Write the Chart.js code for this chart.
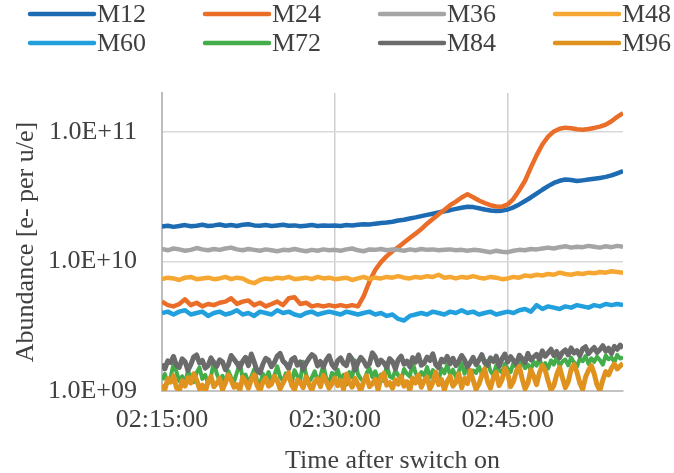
<!DOCTYPE html>
<html>
<head>
<meta charset="utf-8">
<script src="https://cdn.jsdelivr.net/npm/chart.js@4/dist/chart.umd.min.js"></script>
<style>
  html, body { margin: 0; padding: 0; background: #ffffff; }
  canvas { display: block; }
</style>
</head>
<body>
<canvas id="chart" width="674" height="473"></canvas>
<script>
// Sample times in seconds after 02:15:00 (30 s and 15 s logging)
const sampleSec = [
  0, 30, 60, 90, 120, 150, 180, 210, 240, 270,
  300, 330, 360, 390, 420, 450, 480, 510, 540, 570,
  600, 630, 660, 690, 720, 750, 780, 810, 840, 870,
  900, 930, 960, 990, 1020, 1050, 1080, 1110, 1140, 1170,
  1200, 1230, 1260, 1290, 1320, 1350, 1380, 1410, 1440, 1470,
  1500, 1530, 1560, 1590, 1620, 1650, 1680, 1710, 1740, 1770,
  1800, 1830, 1860, 1890, 1920, 1950, 1980, 2010, 2040, 2070,
  2100, 2130, 2160, 2190, 2220, 2250, 2280, 2310, 2340, 2370,
  2400
];
const fineSampleSec = [
  0, 15, 30, 45, 60, 75, 90, 105, 120, 135,
  150, 165, 180, 195, 210, 225, 240, 255, 270, 285,
  300, 315, 330, 345, 360, 375, 390, 405, 420, 435,
  450, 465, 480, 495, 510, 525, 540, 555, 570, 585,
  600, 615, 630, 645, 660, 675, 690, 705, 720, 735,
  750, 765, 780, 795, 810, 825, 840, 855, 870, 885,
  900, 915, 930, 945, 960, 975, 990, 1005, 1020, 1035,
  1050, 1065, 1080, 1095, 1110, 1125, 1140, 1155, 1170, 1185,
  1200, 1215, 1230, 1245, 1260, 1275, 1290, 1305, 1320, 1335,
  1350, 1365, 1380, 1395, 1410, 1425, 1440, 1455, 1470, 1485,
  1500, 1515, 1530, 1545, 1560, 1575, 1590, 1605, 1620, 1635,
  1650, 1665, 1680, 1695, 1710, 1725, 1740, 1755, 1770, 1785,
  1800, 1815, 1830, 1845, 1860, 1875, 1890, 1905, 1920, 1935,
  1950, 1965, 1980, 1995, 2010, 2025, 2040, 2055, 2070, 2085,
  2100, 2115, 2130, 2145, 2160, 2175, 2190, 2205, 2220, 2235,
  2250, 2265, 2280, 2295, 2310, 2325, 2340, 2355, 2370, 2385,
  2400
];

// Labelled time ticks and abundance decades
const xTickValues = [0, 900, 1800];
const xTickLabels = ["02:15:00", "02:30:00", "02:45:00"];
const xMaxSec = 2400;
const yTickValues = [1e9, 1e10, 1e11];

// Abundances in units of 1e9 e- per u/e
const UNIT = 1e9;
const m12 = [
  18.6, 18.9, 18.5, 18.8, 19.1, 18.7, 18.9, 19.2, 18.8, 19.0,
  19.3, 18.9, 19.1, 18.8, 19.2, 19.4, 19.0, 18.9, 19.1, 18.8,
  19.0, 19.2, 18.9, 19.0, 18.7, 18.9, 19.1, 18.8, 19.0, 18.9,
  19.0, 18.8, 19.1, 19.0, 19.2, 19.4, 19.3, 19.6, 19.8, 20.0,
  20.3, 20.7, 21.0, 21.5, 21.9, 22.4, 22.9, 23.4, 23.9, 24.4,
  24.9, 25.5, 26.0, 26.5, 26.3, 25.8, 25.2, 24.8, 24.5, 24.7,
  25.2, 26.2, 27.6, 29.3, 31.2, 33.4, 35.8, 38.2, 40.4, 42.0,
  43.0, 42.6, 41.8, 42.3, 42.9, 43.5, 44.2, 45.0, 46.2, 48.0, 50.0
];
const m24 = [
  4.9, 4.6, 4.5, 4.7, 5.1, 4.6, 4.8, 4.5, 4.7, 4.6,
  4.8, 4.9, 5.2, 4.7, 4.9, 5.0, 4.6, 4.8, 4.5, 4.7,
  4.9, 4.6, 5.2, 5.3, 4.7, 4.8, 4.5, 4.6, 4.5, 4.6,
  4.5, 4.6, 4.5, 4.6, 4.5, 5.4, 7.0, 8.6, 9.9, 11.0,
  12.0, 12.9, 14.0, 15.2, 16.4, 17.8, 19.6, 21.3, 23.2, 25.0,
  27.2, 29.0, 31.2, 33.0, 31.3, 29.6, 28.3, 27.2, 26.6, 26.5,
  27.6, 30.5, 35.5, 42.0, 53.0, 66.0, 80.0, 92.0, 101.0, 106.0,
  108.0, 107.0, 105.0, 104.0, 105.5, 107.5, 110.0, 114.0, 121.0, 131.0, 140.0
];
const m36 = [
  12.5, 12.2, 12.6, 12.4, 12.1, 12.3, 12.7, 12.4, 12.2, 12.5,
  12.3, 12.6, 12.8, 12.4, 12.2, 12.5, 12.3, 12.1, 12.4, 12.2,
  12.0, 12.3, 12.2, 12.5, 12.2, 12.0, 12.3, 12.1, 12.4, 12.2,
  12.3, 12.1, 12.4, 12.6, 12.2, 12.0, 12.4, 12.3, 12.5, 12.2,
  12.4, 12.3, 12.1, 12.4, 12.2, 12.5, 12.3, 12.4, 12.2, 12.3,
  12.4, 12.2, 12.3, 12.1, 12.3, 12.2, 12.0, 11.8, 12.1, 11.9,
  11.8, 12.1, 12.3, 12.2, 12.5, 12.4, 12.6, 12.8, 12.6, 12.9,
  13.1, 12.8, 13.0, 12.9, 13.2, 13.0, 12.8, 13.1, 12.9, 13.2, 13.0
];
const m48 = [
  7.3, 7.5, 7.4, 7.2, 7.5, 7.6, 7.3, 7.4, 7.5, 7.3,
  7.4, 7.6, 7.3, 7.5, 7.4, 7.0, 6.8, 7.2, 7.4, 7.3,
  7.5, 7.4, 7.6, 7.3, 7.4, 7.5, 7.3, 7.6, 7.4, 7.5,
  7.3, 7.4, 7.5, 7.2, 7.4, 7.6, 7.3, 7.5, 7.4, 7.6,
  7.5, 7.7, 7.5, 7.4, 7.6, 7.5, 7.7, 7.6, 7.9, 7.5,
  7.6, 7.4, 7.6, 7.5, 7.7, 7.5, 7.4, 7.6, 7.5, 7.3,
  7.4, 7.6, 7.5, 7.8, 7.7, 7.9, 7.8, 8.0, 7.9, 8.2,
  8.0, 7.9, 8.1, 8.0, 8.2, 8.1, 8.3, 8.2, 8.4, 8.3, 8.2
];
const m60 = [
  4.0, 4.1, 3.9, 4.1, 4.2, 3.9, 4.0, 4.1, 3.8, 4.0,
  4.1, 3.9, 4.0, 4.2, 3.9, 4.0, 3.8, 4.1, 4.0, 3.9,
  4.2, 4.0, 4.1, 3.9, 3.8, 4.0, 4.1, 3.9, 4.0, 4.1,
  4.0, 3.9, 4.1, 4.0, 3.9, 4.0, 4.1, 3.9, 4.0, 3.8,
  3.9, 3.6, 3.5, 3.8, 3.9, 4.0, 3.9, 4.1, 4.0, 3.9,
  4.1, 4.0, 4.2, 4.0, 4.1, 3.9, 4.0, 4.1, 3.9, 4.0,
  4.1, 4.0, 4.2, 4.3, 4.1, 4.6, 4.3, 4.5, 4.4, 4.3,
  4.5, 4.4, 4.6, 4.5, 4.4, 4.6, 4.5, 4.7, 4.6, 4.7, 4.6
];
// Low-level fragments, logged every 15 s
const m72 = [
  1.22, 1.35, 1.15, 1.28, 1.62, 1.41, 1.19, 1.30, 1.12, 1.44,
  1.26, 1.17, 1.38, 1.52, 1.24, 1.33, 1.14, 1.29, 1.70, 1.36,
  1.20, 1.31, 1.13, 1.43, 1.27, 1.18, 1.39, 1.65, 1.25, 1.34,
  1.16, 1.29, 1.47, 1.21, 1.11, 1.36, 1.23, 1.40, 1.18, 1.32,
  1.55, 1.28, 1.19, 1.37, 1.26, 1.14, 1.45, 1.30, 1.22, 1.68,
  1.34, 1.17, 1.27, 1.42, 1.20, 1.31, 1.58, 1.25, 1.15, 1.38,
  1.29, 1.46, 1.21, 1.33, 1.12, 1.40, 1.27, 1.72, 1.35, 1.24,
  1.18, 1.37, 1.50, 1.28, 1.42, 1.23, 1.34, 1.19, 1.61, 1.30,
  1.26, 1.44, 1.32, 1.21, 1.48, 1.36, 1.29, 1.66, 1.38, 1.25,
  1.40, 1.31, 1.53, 1.27, 1.45, 1.34, 1.22, 1.49, 1.37, 1.59,
  1.33, 1.46, 1.28, 1.41, 1.64, 1.36, 1.52, 1.30, 1.44, 1.38,
  1.55, 1.35, 1.47, 1.71, 1.42, 1.33, 1.58, 1.45, 1.39, 1.62,
  1.48, 1.40, 1.66, 1.53, 1.44, 1.74, 1.50, 1.60, 1.46, 1.68,
  1.57, 1.78, 1.52, 1.64, 1.49, 1.72, 1.60, 1.83, 1.56, 1.69,
  1.75, 1.58, 1.81, 1.66, 1.54, 1.77, 1.70, 1.86, 1.62, 1.79,
  1.68, 1.84, 1.73, 1.60, 1.88, 1.76, 1.82, 1.67, 1.90, 1.78,
  1.82
];
const m84 = [
  1.62, 1.48, 1.71, 1.66, 1.85, 1.58, 1.52, 1.77, 1.69, 1.44,
  1.60, 1.83, 1.90, 1.65, 1.72, 1.50, 1.57, 1.80, 1.63, 1.55,
  1.74, 1.68, 1.46, 1.59, 1.88, 1.76, 1.64, 1.51, 1.70, 1.82,
  1.57, 1.93, 1.67, 1.43, 1.38, 1.61, 1.79, 1.73, 1.54, 1.66,
  1.86, 1.95, 1.70, 1.62, 1.49, 1.75, 1.81, 1.58, 1.68, 1.47,
  1.64, 1.78, 1.91, 1.84, 1.56, 1.69, 1.53, 1.74, 1.87, 1.60,
  1.50, 1.72, 1.80, 1.63, 1.57, 1.89, 1.76, 1.45, 1.66, 1.82,
  1.71, 1.55, 1.62, 1.97, 1.84, 1.59, 1.73, 1.65, 1.52, 1.78,
  1.69, 1.48, 1.75, 1.86, 1.61, 1.70, 1.54, 1.81, 1.67, 1.90,
  1.58, 1.64, 1.83, 1.72, 1.94, 1.60, 1.51, 1.76, 1.68, 1.85,
  1.62, 1.79, 1.57, 1.70, 1.88, 1.74, 1.53, 1.66, 1.82, 1.60,
  1.73, 1.91, 1.65, 1.58, 1.80, 1.69, 1.86, 1.55, 1.77, 1.93,
  1.68, 1.84, 1.72, 1.61, 1.89, 1.78, 1.66, 1.95, 1.74, 1.83,
  1.92, 1.76, 2.04, 1.85, 1.97, 2.10, 1.88, 2.02, 1.81, 1.99,
  2.08, 1.90, 2.15, 1.96, 2.05, 1.87, 2.12, 2.20, 1.94, 2.06,
  2.17, 1.98, 2.09, 2.24, 2.03, 2.14, 1.95, 2.21, 2.10, 2.26,
  2.15
];
const m96 = [
  1.12, 1.03, 1.24, 1.17, 1.31, 1.06, 1.00, 1.20, 1.09, 1.27,
  1.15, 1.36, 1.22, 1.04, 1.11, 0.98, 1.19, 1.29, 1.08, 1.14,
  1.25, 1.02, 1.16, 1.33, 1.21, 1.07, 1.12, 1.01, 1.28, 1.18,
  1.05, 1.23, 1.34, 1.10, 1.00, 1.17, 1.26, 1.09, 1.13, 1.30,
  1.20, 1.04, 1.15, 1.27, 1.38, 1.11, 1.02, 1.22, 1.16, 1.06,
  1.29, 1.13, 1.01, 1.18, 1.24, 1.08, 1.32, 1.19, 1.05, 1.14,
  1.26, 1.10, 1.21, 1.03, 1.35, 1.17, 1.07, 1.25, 1.12, 1.00,
  1.19, 1.31, 1.08, 1.14, 1.23, 1.02, 1.28, 1.37, 1.11, 1.16,
  1.05, 1.22, 1.13, 1.30, 1.09, 1.18, 1.01, 1.26, 1.15, 1.33,
  1.07, 1.20, 1.28, 1.04, 1.16, 1.40, 1.12, 1.23, 1.02, 1.19,
  1.30, 1.09, 1.17, 1.36, 1.06, 1.25, 1.14, 1.44, 1.21, 1.03,
  1.13, 1.32, 1.48, 1.18, 1.05, 1.27, 1.39, 1.10, 1.22, 1.50,
  1.35, 1.08, 1.19, 1.42, 1.55, 1.24, 1.04, 1.15, 1.46, 1.30,
  1.12, 1.38, 1.58, 1.45, 1.20, 1.02, 1.10, 1.34, 1.52, 1.26,
  1.06, 1.18, 1.47, 1.60, 1.40, 1.15, 1.03, 1.28, 1.44, 1.57,
  1.36, 1.11, 1.01, 1.22, 1.41, 1.33, 1.50, 1.62, 1.48, 1.56,
  1.63
];

const seriesNames = ["M12", "M24", "M36", "M48", "M60", "M72", "M84", "M96"];
const seriesValues = [m12, m24, m36, m48, m60, m72, m84, m96];
const seriesTimes = [sampleSec, sampleSec, sampleSec, sampleSec, sampleSec, fineSampleSec, fineSampleSec, fineSampleSec];
const seriesColors = ["#1d6bb3", "#ea6d28", "#a5a5a5", "#f6a732", "#22a0de", "#43ad4a", "#6b6b6b", "#e0921f"];
const seriesWidths = [4.5, 4.5, 4.5, 4.5, 4.5, 4, 5, 5];

const FONT = '"Liberation Serif", "Times New Roman", serif';
const TEXT_COLOR = "#404040";

// Two-row legend laid out in four fixed columns above the plot
const legendCols = [28, 203, 378, 553];
const legendRows = [14, 43];
const gridLegend = {
  id: "gridLegend",
  afterDraw(chart) {
    const ctx = chart.ctx;
    ctx.save();
    ctx.font = "26px " + FONT;
    ctx.textBaseline = "middle";
    ctx.textAlign = "left";
    chart.data.datasets.forEach((ds, i) => {
      const x = legendCols[i % 4];
      const y = legendRows[Math.floor(i / 4)];
      ctx.strokeStyle = ds.borderColor;
      ctx.lineWidth = 4.5;
      ctx.lineCap = "round";
      ctx.beginPath();
      ctx.moveTo(x + 2, y);
      ctx.lineTo(x + 66, y);
      ctx.stroke();
      ctx.fillStyle = TEXT_COLOR;
      ctx.fillText(ds.label, x + 69, y + 1);
    });
    ctx.restore();
  }
};

function sciLabel(v) {
  const exp = Math.round(Math.log10(v));
  const mant = v / Math.pow(10, exp);
  return mant.toFixed(1) + "E+" + String(exp).padStart(2, "0");
}

new Chart(document.getElementById("chart"), {
  type: "line",
  data: {
    datasets: seriesNames.map((name, i) => ({
      label: name,
      data: seriesValues[i].map((v, k) => ({ x: seriesTimes[i][k], y: v * UNIT })),
      borderColor: seriesColors[i],
      backgroundColor: seriesColors[i],
      borderWidth: seriesWidths[i],
      borderJoinStyle: "round",
      pointRadius: 0,
      tension: 0,
      fill: false,
      order: seriesNames.length - 1 - i
    }))
  },
  options: {
    responsive: false,
    animation: false,
    devicePixelRatio: 1,
    layout: { padding: { top: 93, right: 51, bottom: 0, left: 0 } },
    plugins: {
      legend: { display: false },
      tooltip: { enabled: false }
    },
    scales: {
      x: {
        type: "linear",
        min: 0,
        max: xMaxSec,
        afterFit(scale) { scale.height = 82; },
        afterBuildTicks(scale) {
          scale.ticks = xTickValues.map(v => ({ value: v }));
        },
        grid: {
          color: "#cfcfcf",
          lineWidth: 1.5,
          drawTicks: false
        },
        border: { display: true, color: "#c4c4c4", width: 2 },
        ticks: {
          maxRotation: 0,
          minRotation: 0,
          padding: 14,
          color: TEXT_COLOR,
          font: { family: FONT, size: 26 },
          callback(value) {
            const k = xTickValues.indexOf(value);
            return k >= 0 ? xTickLabels[k] : "";
          }
        },
        title: {
          display: true,
          text: "Time after switch on",
          color: TEXT_COLOR,
          font: { family: FONT, size: 26, lineHeight: 0.9 },
          padding: { top: 0, bottom: 0 }
        }
      },
      y: {
        type: "logarithmic",
        min: 1e9,
        max: 2e11,
        afterFit(scale) { scale.width = 162; },
        afterBuildTicks(scale) {
          scale.ticks = yTickValues.map(v => ({ value: v }));
        },
        grid: {
          color: "#d9d9d9",
          lineWidth: 1.5,
          drawTicks: false
        },
        border: { display: true, color: "#bdbdbd", width: 2 },
        ticks: {
          padding: 25,
          color: TEXT_COLOR,
          font: { family: FONT, size: 26 },
          callback: v => sciLabel(v)
        },
        title: {
          display: true,
          text: "Abundance [e- per u/e]",
          color: TEXT_COLOR,
          font: { family: FONT, size: 26 },
          padding: { top: 11, bottom: 0 }
        }
      }
    }
  },
  plugins: [gridLegend]
});
</script>
</body>
</html>
